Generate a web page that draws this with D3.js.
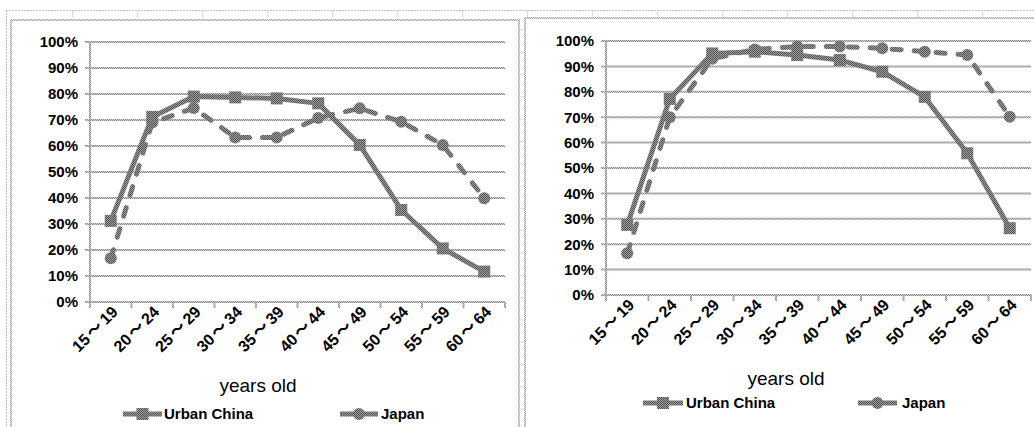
<!DOCTYPE html>
<html>
<head>
<meta charset="utf-8">
<script src="https://cdn.jsdelivr.net/npm/d3@7"></script>
<style>
  html, body { margin: 0; padding: 0; background: #fff; overflow: hidden; }
  svg { display: block; }
  .tick-label { font-family: "Liberation Sans", Arial, sans-serif; font-weight: bold; font-size: 15px; fill: #000; }
  .age-label { font-size: 16px; }
  .wave { font-family: "Noto Sans CJK JP", "Noto Sans CJK SC", sans-serif; font-weight: bold; }
  .axis-title { font-family: "Liberation Sans", Arial, sans-serif; font-size: 19px; fill: #000; }
</style>
</head>
<body>
<svg id="chart" width="1034" height="427"></svg>
<script>
// Age groups on the horizontal axis
const ageGroups = ["15～19", "20～24", "25～29", "30～34", "35～39", "40～44", "45～49", "50～54", "55～59", "60～64"];
// Percent ticks on the vertical axis
const percentTicks = [0, 0.1, 0.2, 0.3, 0.4, 0.5, 0.6, 0.7, 0.8, 0.9, 1.0];
const seriesNames = ["Urban China", "Japan"];

// Left panel: female participation by age
const chinaLeft = [0.312, 0.712, 0.790, 0.787, 0.783, 0.764, 0.604, 0.354, 0.206, 0.117];
const japanLeft = [0.168, 0.690, 0.746, 0.633, 0.633, 0.708, 0.745, 0.693, 0.604, 0.399];
// Right panel: male participation by age
const chinaRight = [0.276, 0.772, 0.951, 0.958, 0.945, 0.925, 0.879, 0.780, 0.558, 0.263];
const japanRight = [0.164, 0.700, 0.930, 0.967, 0.978, 0.978, 0.971, 0.958, 0.945, 0.702];

const svg = d3.select("#chart");
const defs = svg.append("defs");

// Two-tone pixel patterns give the halftone grey of the strokes
function dither(id, dark, light) {
  const p = defs.append("pattern").attr("id", id)
    .attr("width", 2).attr("height", 2).attr("patternUnits", "userSpaceOnUse");
  p.append("rect").attr("width", 2).attr("height", 2).attr("fill", light);
  p.append("rect").attr("width", 1).attr("height", 1).attr("fill", dark);
  p.append("rect").attr("x", 1).attr("y", 1).attr("width", 1).attr("height", 1).attr("fill", dark);
}
dither("ink", "#505050", "#a0a0a0");
dither("grid", "#8a8a8a", "#cfcfcf");
dither("frame", "#a8a8a8", "#e6e6e6");

// Worksheet cell lines behind the two charts
const sheet = svg.append("g");
sheet.append("line").attr("x1", 6).attr("x2", 1034).attr("y1", 10.5).attr("y2", 10.5)
  .attr("stroke", "#c4c4c4").attr("stroke-dasharray", "2,1");
sheet.append("line").attr("x1", 6.5).attr("x2", 6.5).attr("y1", 10).attr("y2", 427)
  .attr("stroke", "#c4c4c4").attr("stroke-dasharray", "2,1");
d3.range(1, 16).forEach(k => {
  const x = 7.7 + 65 * k;
  if (x > 1034) return;
  sheet.append("line").attr("x1", x).attr("x2", x).attr("y1", 11).attr("y2", 18)
    .attr("stroke", "#d4d4d4");
});
d3.range(30, 427, 22.3).forEach(y => {
  sheet.append("line").attr("x1", 519).attr("x2", 524).attr("y1", y).attr("y2", y)
    .attr("stroke", "#dadada");
});

const panels = [
  { frame: { x: 11, y: 20, w: 508 }, xr: [90, 505], yr: [302, 42],
    china: chinaLeft, japan: japanLeft,
    title: { x: 258, y: 392 }, legendY: 414,
    legend: [{ x0: 123, x1: 162, tx: 164 }, { x0: 340, x1: 378, tx: 381 }] },
  { frame: { x: 525, y: 18, w: 520 }, xr: [606, 1031], yr: [295, 41],
    china: chinaRight, japan: japanRight,
    title: { x: 786, y: 385 }, legendY: 403,
    legend: [{ x0: 643, x1: 683, tx: 686 }, { x0: 858, x1: 897, tx: 902 }] }
];

const styles = [
  { dash: null, marker: "square" },
  { dash: "9,13", marker: "circle" }
];

function drawMarker(g, kind, cx, cy) {
  if (kind === "square") {
    g.append("rect").attr("x", cx - 6).attr("y", cy - 6).attr("width", 12).attr("height", 12)
      .attr("fill", "url(#ink)");
  } else {
    g.append("circle").attr("cx", cx).attr("cy", cy).attr("r", 6)
      .attr("fill", "url(#ink)");
  }
}

panels.forEach(p => {
  const g = svg.append("g");

  // chart area border
  g.append("path")
    .attr("d", `M${p.frame.x},430 V${p.frame.y} H${p.frame.x + p.frame.w} V430`)
    .attr("fill", "none").attr("stroke", "url(#frame)").attr("stroke-width", 2);

  const x = d3.scaleBand().domain(ageGroups).range(p.xr);
  const y = d3.scaleLinear().domain([0, 1]).range(p.yr);

  // horizontal gridlines with short outer ticks
  g.append("g").selectAll("line").data(percentTicks).join("line")
    .attr("x1", p.xr[0] - 5).attr("x2", p.xr[1])
    .attr("y1", d => y(d)).attr("y2", d => y(d))
    .attr("stroke", "url(#grid)").attr("stroke-width", 2);

  // value axis line
  g.append("line").attr("x1", p.xr[0]).attr("x2", p.xr[0])
    .attr("y1", y(1)).attr("y2", y(0) + 6)
    .attr("stroke", "url(#grid)").attr("stroke-width", 2);

  // category tick marks at band edges
  const edges = ageGroups.map(c => x(c)).concat([p.xr[1]]);
  g.append("g").selectAll("line").data(edges.slice(1)).join("line")
    .attr("x1", d => d).attr("x2", d => d)
    .attr("y1", y(0)).attr("y2", y(0) + 6)
    .attr("stroke", "url(#grid)").attr("stroke-width", 2);

  // percent labels
  g.append("g").selectAll("text").data(percentTicks).join("text")
    .attr("class", "tick-label")
    .attr("x", p.xr[0] - 12).attr("y", d => y(d)).attr("dy", "0.36em")
    .attr("text-anchor", "end")
    .text(d => d3.format(".0%")(d));

  // rotated age labels; the wave dash is set in a CJK face
  const ageText = g.append("g").selectAll("text").data(ageGroups).join("text")
    .attr("class", "tick-label age-label")
    .attr("text-anchor", "end")
    .attr("transform", d => `translate(${x(d) + x.bandwidth() / 2 + 8},${y(0) + 11}) rotate(-45)`);
  ageText.each(function(d) {
    const parts = d.split("～");
    const t = d3.select(this);
    t.append("tspan").text(parts[0]);
    t.append("tspan").attr("class", "wave").attr("dx", 2).text("～");
    t.append("tspan").attr("dx", 3).text(parts[1]);
  });

  // axis title
  g.append("text").attr("class", "axis-title")
    .attr("x", p.title.x).attr("y", p.title.y).attr("text-anchor", "middle")
    .text("years old");

  // series lines and markers
  const line = d3.line()
    .x((d, i) => x(ageGroups[i]) + x.bandwidth() / 2)
    .y(d => y(d));
  [p.china, p.japan].forEach((vals, si) => {
    const st = styles[si];
    const path = g.append("path").datum(vals)
      .attr("d", line)
      .attr("fill", "none")
      .attr("stroke", "url(#ink)")
      .attr("stroke-width", 5)
      .attr("stroke-linejoin", "round")
      .attr("stroke-linecap", "round");
    if (st.dash) path.attr("stroke-dasharray", st.dash);
    vals.forEach((v, i) => drawMarker(g, st.marker, x(ageGroups[i]) + x.bandwidth() / 2, y(v)));
  });

  // legend
  p.legend.forEach((L, si) => {
    const st = styles[si];
    g.append("line").attr("x1", L.x0).attr("x2", L.x1)
      .attr("y1", p.legendY).attr("y2", p.legendY)
      .attr("stroke", "url(#ink)").attr("stroke-width", 5);
    drawMarker(g, st.marker, (L.x0 + L.x1) / 2, p.legendY);
    g.append("text").attr("class", "tick-label")
      .attr("x", L.tx).attr("y", p.legendY).attr("dy", "0.36em")
      .text(seriesNames[si]);
  });
});
</script>
</body>
</html>
